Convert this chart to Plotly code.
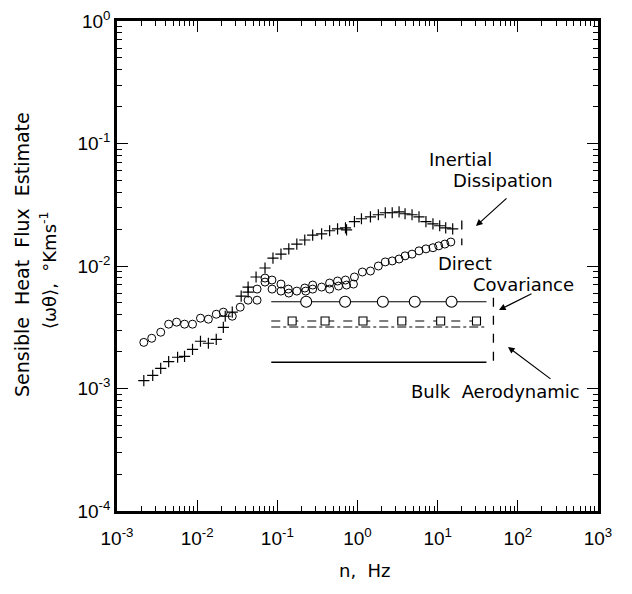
import plotly.graph_objects as go

# ---- data ----
circ_x = [2.16e-3, 2.71e-3, 3.51e-3, 4.41e-3, 5.54e-3, 6.96e-3, 8.75e-3, 1.10e-2, 1.38e-2, 1.73e-2,
          2.12e-2, 2.74e-2, 3.44e-2, 4.32e-2, 5.59e-2, 5.59e-2, 7.02e-2, 7.02e-2, 8.57e-2, 8.6e-2,
          0.111, 0.111, 0.137, 0.139, 0.175, 0.220, 0.226, 0.276, 0.276, 0.357,
          0.449, 0.449, 0.564, 0.58, 0.708, 0.73, 0.916, 0.89, 1.15, 1.45,
          1.82, 2.22, 2.71, 3.30, 3.92, 4.79, 5.85, 7.14, 8.73, 10.3, 12.3, 14.6]
circ_y = [2.38e-3, 2.57e-3, 2.88e-3, 3.35e-3, 3.48e-3, 3.35e-3, 3.35e-3, 3.75e-3, 3.68e-3, 4.04e-3,
          4.20e-3, 3.89e-3, 4.61e-3, 5.26e-3, 5.26e-3, 6.48e-3, 7.97e-3, 7.39e-3, 7.68e-3, 6.48e-3,
          7.12e-3, 6.24e-3, 6.48e-3, 6.01e-3, 6.24e-3, 6.61e-3, 6.24e-3, 6.99e-3, 6.48e-3, 6.73e-3,
          7.26e-3, 6.48e-3, 7.54e-3, 6.86e-3, 7.68e-3, 6.99e-3, 8.13e-3, 7.12e-3, 8.93e-3, 9.10e-3,
          1.00e-2, 1.08e-2, 1.10e-2, 1.14e-2, 1.21e-2, 1.25e-2, 1.33e-2, 1.38e-2, 1.41e-2, 1.46e-2,
          1.51e-2, 1.57e-2]

cross_x = [2.16e-3, 2.79e-3, 3.51e-3, 4.41e-3, 5.70e-3, 6.96e-3, 8.75e-3, 1.10e-2, 1.38e-2, 1.73e-2,
           2.12e-2, 2.24e-2, 2.74e-2, 3.54e-2, 4.32e-2, 4.32e-2, 5.43e-2, 7.02e-2, 8.82e-2, 0.111,
           0.139, 0.175, 0.220, 0.276, 0.357, 0.449, 0.564, 0.708, 0.73, 0.916,
           1.12, 1.45, 1.82, 2.22, 2.71, 3.30, 3.92, 4.79, 5.85, 7.14,
           8.73, 10.6, 12.6, 15.4]
cross_y = [1.16e-3, 1.28e-3, 1.46e-3, 1.66e-3, 1.80e-3, 1.83e-3, 2.09e-3, 2.43e-3, 2.34e-3, 2.52e-3,
           3.16e-3, 3.89e-3, 4.20e-3, 5.68e-3, 6.12e-3, 6.73e-3, 8.13e-3, 9.63e-3, 1.16e-2, 1.25e-2,
           1.38e-2, 1.51e-2, 1.63e-2, 1.79e-2, 1.83e-2, 1.94e-2, 2.01e-2, 2.05e-2, 1.97e-2, 2.30e-2,
           2.43e-2, 2.52e-2, 2.62e-2, 2.72e-2, 2.72e-2, 2.77e-2, 2.67e-2, 2.62e-2, 2.52e-2, 2.30e-2,
           2.21e-2, 2.13e-2, 2.05e-2, 2.01e-2]

# horizontal reference levels (band-integrated estimates)
band_x = [0.084, 40.6]
dc_level = 5.1e-3          # direct covariance (circles)
dc_marker_x = [0.229, 0.70, 2.07, 5.18, 14.9]
sq_level = 3.56e-3         # squares, dashed
sq_marker_x = [0.153, 0.394, 1.17, 3.57, 10.9, 30.5]
dd_level = 3.18e-3         # dash-dot
bulk_level = 1.64e-3       # bulk aerodynamic (solid)
end_x = [49.6, 49.6]
end_y = [5.5e-3, 1.60e-3]
id_end_x = [20.0, 20.0]
id_end_y = [2.35e-2, 1.48e-2]

x_tickvals = [1e-3, 1e-2, 1e-1, 1e0, 1e1, 1e2, 1e3]
x_ticktext = ["10<sup>-3</sup>", "10<sup>-2</sup>", "10<sup>-1</sup>", "10<sup>0</sup>",
              "10<sup>1</sup>", "10<sup>2</sup>", "10<sup>3</sup>"]
y_tickvals = [1e-4, 1e-3, 1e-2, 1e-1, 1e0]
y_ticktext = ["10<sup>-4</sup>", "10<sup>-3</sup>", "10<sup>-2</sup>", "10<sup>-1</sup>", "10<sup>0</sup>"]

x_minor = [m * 10.0 ** e for e in range(-3, 3) for m in range(2, 10)]
y_minor = [m * 10.0 ** e for e in range(-4, 0) for m in range(2, 10)]

TXT = "DejaVu Sans"
NUM = "Liberation Sans"

fig = go.Figure()

fig.add_trace(go.Scatter(x=cross_x, y=cross_y, mode="markers",
                         marker=dict(symbol="cross-thin", size=8, line=dict(color="black", width=1.2)),
                         showlegend=False))
fig.add_trace(go.Scatter(x=circ_x, y=circ_y, mode="markers",
                         marker=dict(symbol="circle-open", size=8, color="black", line=dict(width=1.0)),
                         showlegend=False))

# band lines
fig.add_trace(go.Scatter(x=band_x, y=[dc_level, dc_level], mode="lines",
                         line=dict(color="black", width=1.1), showlegend=False))
fig.add_trace(go.Scatter(x=band_x, y=[sq_level, sq_level], mode="lines",
                         line=dict(color="black", width=1.1, dash="dash"), showlegend=False))
fig.add_trace(go.Scatter(x=band_x, y=[dd_level, dd_level], mode="lines",
                         line=dict(color="black", width=1.1, dash="dashdot"), showlegend=False))
fig.add_trace(go.Scatter(x=band_x, y=[bulk_level, bulk_level], mode="lines",
                         line=dict(color="black", width=1.4), showlegend=False))
fig.add_trace(go.Scatter(x=end_x, y=end_y, mode="lines",
                         line=dict(color="black", width=1.3, dash="dash"), showlegend=False))
fig.add_trace(go.Scatter(x=id_end_x, y=id_end_y, mode="lines",
                         line=dict(color="black", width=1.3, dash="dash"), showlegend=False))

fig.add_trace(go.Scatter(x=dc_marker_x, y=[dc_level] * len(dc_marker_x), mode="markers",
                         marker=dict(symbol="circle", size=11, color="white",
                                     line=dict(color="black", width=1.1)), showlegend=False))
fig.add_trace(go.Scatter(x=sq_marker_x, y=[sq_level] * len(sq_marker_x), mode="markers",
                         marker=dict(symbol="square", size=8, color="white",
                                     line=dict(color="black", width=1.1)), showlegend=False))

# screen-space plot area (page has an 8px body margin)
OFF = 8
SX0, SX1, SY0, SY1 = 117, 598, 21, 511
W, H = 632 - 2 * OFF, 594 - 2 * OFF
L, T = SX0 - OFF, SY0 - OFF
R, B = W - (SX1 - OFF), H - (SY1 - OFF)


def px(x):
    return (x - SX0) / (SX1 - SX0)


def py(y):
    return (SY1 - y) / (SY1 - SY0)


axis_common = dict(type="log", showgrid=False, zeroline=False, showline=True, linecolor="black",
                   linewidth=2.5, mirror="allticks", ticks="inside", ticklen=11, tickwidth=1.2,
                   tickcolor="black", tickmode="array", automargin=False, ticklabeloverflow="allow")

fig.update_xaxes(range=[-3, 3], tickvals=x_tickvals, ticktext=x_ticktext,
                 tickfont=dict(family=NUM, size=19, color="black"), ticklabelstandoff=8,
                 minor=dict(tickvals=x_minor, ticks="inside", ticklen=5, tickwidth=1, tickcolor="black",
                            showgrid=False),
                 **axis_common)
fig.update_yaxes(range=[-4, 0], tickvals=y_tickvals, ticktext=y_ticktext,
                 tickfont=dict(family=NUM, size=19, color="black"),
                 minor=dict(tickvals=y_minor, ticks="inside", ticklen=5, tickwidth=1, tickcolor="black",
                            showgrid=False),
                 **axis_common)

ann = []


def text(s, x, y, size=18, angle=0):
    ann.append(dict(text=s, x=px(x), y=py(y), xref="paper", yref="paper", showarrow=False,
                    font=dict(family=TXT, size=size, color="black"), textangle=angle,
                    xanchor="center", yanchor="middle"))


def arrow(hx, hy, tx, ty):
    ann.append(dict(text="", x=px(hx), y=py(hy), xref="paper", yref="paper", showarrow=True,
                    ax=tx - hx, ay=ty - hy, axref="pixel", ayref="pixel",
                    arrowhead=2, arrowsize=1.1, arrowwidth=1.2, arrowcolor="black"))


text("Inertial", 460, 160)
text("Dissipation", 503, 180)
text("Direct", 465, 263)
text("Covariance", 523, 284)
text("Bulk  Aerodynamic", 495, 391)
text("n,  Hz", 365, 570)
text("Sensible  Heat  Flux  Estimate", 22, 255, size=19, angle=-90)
text("\u27e8\u03c9\u03b8\u27e9,  \u00b0Kms<sup>-1</sup>", 48, 270, size=18, angle=-90)

arrow(476, 226, 508, 197)
arrow(499, 310, 533, 293)
arrow(508, 347, 552, 380)

fig.update_layout(width=W, height=H, margin=dict(l=L, r=R, t=T, b=B, autoexpand=False),
                  paper_bgcolor="white", plot_bgcolor="white", annotations=ann, showlegend=False)

fig.write_html("out.html")
